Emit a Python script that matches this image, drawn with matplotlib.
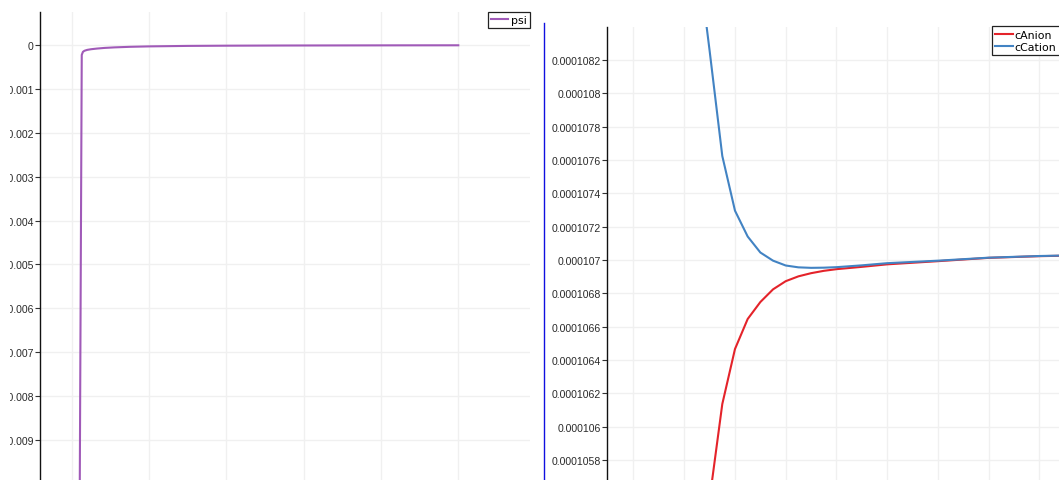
import matplotlib
matplotlib.use("Agg")
import matplotlib.pyplot as plt
from matplotlib.lines import Line2D
from matplotlib.ticker import FuncFormatter, FixedLocator
from matplotlib.transforms import Bbox

W, H, DPI = 1059, 481, 100

# ---------------- data ----------------
psi_x = [0.0, 0.026, 0.029, 0.033, 0.04, 0.05, 0.065, 0.085, 0.11, 0.15,
         0.2, 0.3, 0.4, 0.55, 0.7, 0.85, 1.0]
psi = [-0.05, -0.00022, -0.00015, -0.000125, -0.000105, -0.00009, -0.000075,
       -0.00006, -0.000048, -0.000035, -0.000025, -0.000014, -0.000009,
       -0.000005, -0.000003, -0.000001, 0.0]

conc_x = [1.25, 1.5, 1.75, 2.0, 2.25, 2.5, 2.75, 3.0, 3.25, 3.5, 3.75, 4.0,
          4.5, 5.0, 6.0, 7.0, 8.0, 8.5]
c_anion = [1.049660e-4, 1.055660e-4, 1.061360e-4, 1.064660e-4, 1.066460e-4,
           1.067480e-4, 1.068240e-4, 1.068730e-4, 1.069020e-4, 1.069210e-4,
           1.069350e-4, 1.069450e-4, 1.069590e-4, 1.069740e-4, 1.069930e-4,
           1.070130e-4, 1.070230e-4, 1.070260e-4]
c_cation = [1.088660e-4, 1.082560e-4, 1.076240e-4, 1.072960e-4, 1.071410e-4,
            1.070450e-4, 1.069960e-4, 1.069670e-4, 1.069560e-4, 1.069530e-4,
            1.069540e-4, 1.069570e-4, 1.069680e-4, 1.069810e-4, 1.069960e-4,
            1.070140e-4, 1.070240e-4, 1.070270e-4]

psi_yticks = [0.0, -0.001, -0.002, -0.003, -0.004, -0.005, -0.006, -0.007,
              -0.008, -0.009, -0.01]
conc_yticks = [1.058e-4, 1.060e-4, 1.062e-4, 1.064e-4, 1.066e-4,
               1.068e-4, 1.070e-4, 1.072e-4, 1.074e-4, 1.076e-4, 1.078e-4,
               1.080e-4, 1.082e-4]
psi_xgrid = [0.0, 0.2, 0.4, 0.6, 0.8, 1.0]
conc_xgrid = [0, 1, 2, 3, 4, 5, 6, 7, 8]

psi_label = "psi"
conc_labels = ["cAnion", "cCation"]
col_psi, col_anion, col_cation = "#a05ab8", "#e4232a", "#4283c3"

# ---------------- figure ----------------
plt.rcParams['font.family'] = ['Liberation Sans', 'DejaVu Sans']
FS = 7.6
LEG_FONT = {"family": ["DejaVu Sans"], "size": 7.9}

fig = plt.figure(figsize=(W / DPI, H / DPI), dpi=DPI)
fig.patch.set_facecolor("white")


def px_axes(left, top, right, bottom):
    return fig.add_axes([left / W, (H - bottom) / H,
                         (right - left) / W, (bottom - top) / H])


def style(ax):
    for s in ["top", "right", "bottom"]:
        ax.spines[s].set_visible(False)
    ax.spines["left"].set_color("#111111")
    ax.spines["left"].set_linewidth(1.0)
    ax.tick_params(axis="y", length=3.5, width=0.8, color="#333333",
                   labelsize=FS, labelcolor="#2a2a2a", pad=1)
    ax.tick_params(axis="x", length=0, labelbottom=False)
    ax.grid(True, color="#f0f0f0", lw=1.0)
    ax.set_axisbelow(True)


# left panel: psi
ax1 = px_axes(40, 13, 530, 500)
style(ax1)
ax1.plot(psi_x, psi, color=col_psi, lw=1.5, label=psi_label,
         solid_joinstyle="round")
ax1.set_xlim(-0.082, 1.1855)
ax1.set_ylim(-0.010358, 0.00076)
ax1.xaxis.set_major_locator(FixedLocator(psi_xgrid))
ax1.yaxis.set_major_locator(FixedLocator(psi_yticks))


def fmt_psi(v, pos):
    s = f"{v:.3f}".rstrip("0").rstrip(".")
    return "0" if s in ("-0", "0") else s


ax1.yaxis.set_major_formatter(FuncFormatter(fmt_psi))
leg1 = ax1.legend(loc="upper right", bbox_to_anchor=(530.3 / W, (H - 12.7) / H),
                  bbox_transform=fig.transFigure, frameon=True, fancybox=False,
                  edgecolor="#222222", framealpha=1, borderpad=0.3,
                  handlelength=1.6, handletextpad=0.25, borderaxespad=0,
                  prop=LEG_FONT)
leg1.get_frame().set_linewidth(0.9)

# right panel: concentrations
ax2 = px_axes(607.3, 28, 1075, 500)
style(ax2)
ax2.plot(conc_x, c_anion, color=col_anion, lw=1.5, label=conc_labels[0])
ax2.plot(conc_x, c_cation, color=col_cation, lw=1.5, label=conc_labels[1])
ax2.set_xlim(-0.516, 8.70)
ax2.set_ylim(1.0556610e-4, 1.0839800e-4)
ax2.xaxis.set_major_locator(FixedLocator(conc_xgrid))
ax2.yaxis.set_major_locator(FixedLocator(conc_yticks))
ax2.yaxis.set_major_formatter(
    FuncFormatter(lambda v, pos: f"{v:.7f}".rstrip("0").rstrip(".")))
leg2 = ax2.legend(loc="upper left", bbox_to_anchor=(991.7 / W, (H - 27.3) / H),
                  bbox_transform=fig.transFigure, frameon=True, fancybox=False,
                  edgecolor="#222222", framealpha=1, borderpad=0.3,
                  handlelength=1.6, handletextpad=0.2, borderaxespad=0,
                  labelspacing=0.2, prop=LEG_FONT)
leg2.get_frame().set_linewidth(0.9)

# active-view border (blue line)
fig.add_artist(Line2D([543.5 / W, 543.5 / W], [0, (H - 24) / H],
                      transform=fig.transFigure, color="#1010e0", lw=1.0))

# crop the left tick labels like the original screenshot
fig.canvas.draw()
clip = Bbox.from_extents(10, 0, W, H)
for lab in ax1.get_yticklabels():
    lab.set_clip_box(clip)
    lab.set_clip_on(True)

fig.savefig("out.png", dpi=DPI, facecolor="white")
